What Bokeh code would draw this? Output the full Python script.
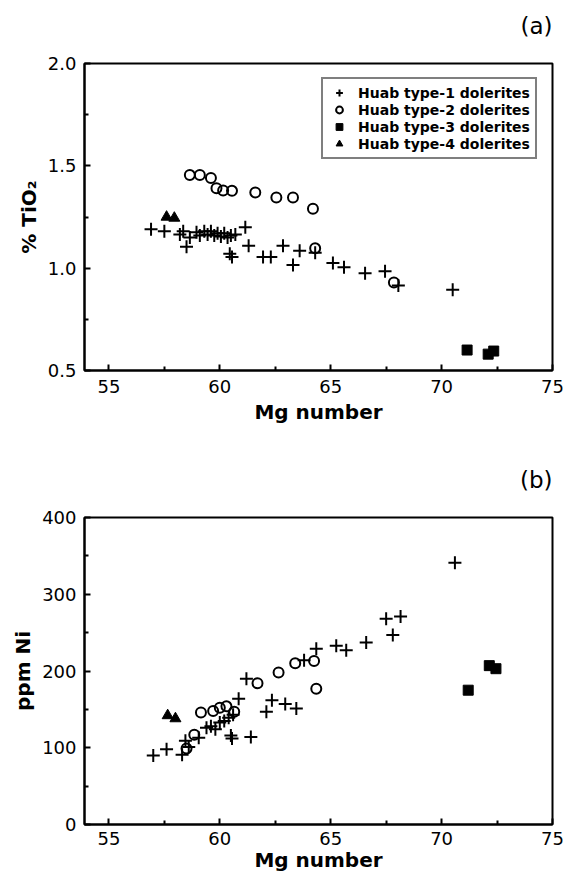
from bokeh.plotting import figure
from bokeh.models import Range1d, FixedTicker, PrintfTickFormatter, Legend, LegendItem, Title
from bokeh.layouts import column
from bokeh.embed import file_html
from bokeh.resources import INLINE

# ---------------- data ----------------
labels = ["Huab type-1 dolerites", "Huab type-2 dolerites",
          "Huab type-3 dolerites", "Huab type-4 dolerites"]

# panel (a): TiO2 vs Mg number
a_t1_mg = [56.9, 57.5, 58.2, 58.35, 58.5, 58.65, 58.95, 59.1, 59.3, 59.45, 59.6,
           59.75, 59.9, 60.05, 60.2, 60.35, 60.5, 60.7, 61.15, 61.3, 60.45, 60.55,
           61.95, 62.3, 62.85, 63.3, 63.6, 64.3, 65.1, 65.6, 66.55, 67.45, 68.05, 70.5]
a_t1_ti = [1.19, 1.18, 1.165, 1.18, 1.105, 1.15, 1.175, 1.16, 1.18, 1.165, 1.18,
           1.16, 1.17, 1.155, 1.17, 1.15, 1.16, 1.165, 1.20, 1.11, 1.07, 1.055,
           1.055, 1.055, 1.11, 1.015, 1.085, 1.075, 1.025, 1.005, 0.975, 0.985, 0.915, 0.895]
a_t2_mg = [58.65, 59.1, 59.6, 59.85, 60.15, 60.55, 61.6, 62.55, 63.3, 64.2, 64.3, 67.85]
a_t2_ti = [1.455, 1.455, 1.44, 1.39, 1.38, 1.378, 1.37, 1.345, 1.345, 1.29, 1.097, 0.93]
a_t3_mg = [71.15, 72.1, 72.35]
a_t3_ti = [0.60, 0.58, 0.595]
a_t4_mg = [57.6, 57.95]
a_t4_ti = [1.25, 1.245]

# panel (b): Ni vs Mg number
b_t1_mg = [57.0, 57.6, 58.3, 58.45, 58.6, 59.05, 59.4, 59.6, 59.8, 60.0, 60.2, 60.4,
           60.6, 60.85, 60.5, 60.55, 61.4, 61.2, 62.1, 62.35, 62.95, 63.45, 63.8,
           64.35, 65.25, 65.7, 66.6, 67.5, 68.15, 67.8, 70.6]
b_t1_ni = [90, 98, 91, 109, 101, 113, 126, 128, 124, 133, 135, 139,
           143, 164, 116, 112, 114, 190, 147, 162, 157, 151, 214,
           229, 233, 227, 237, 268, 271, 247, 341]
b_t2_mg = [58.5, 58.85, 59.15, 59.7, 60.0, 60.3, 60.65, 61.7, 62.65, 63.4, 64.25, 64.35]
b_t2_ni = [99, 117, 146, 148, 152, 154, 147, 184, 198, 210, 213, 177]
b_t3_mg = [71.2, 72.15, 72.45]
b_t3_ni = [175, 207, 203]
b_t4_mg = [57.65, 58.0]
b_t4_ni = [142, 138]

x_ticks = [55, 60, 65, 70, 75]
x_minor = [57.5, 62.5, 67.5, 72.5]
a_yticks = [0.5, 1.0, 1.5, 2.0]
a_yminor = [0.75, 1.25, 1.75]
b_yticks = [0, 100, 200, 300, 400]
b_yminor = [50, 150, 250, 350]

FONT = "DejaVu Sans"
X0, X1 = 53.9, 75


def make_fig(y0, y1, yticks, yminor, yfmt, ylabel, title, top, bottom):
    p = figure(output_backend="svg", toolbar_location=None, title=None,
               frame_width=468, frame_height=307,
               x_range=Range1d(X0, X1), y_range=Range1d(y0, y1),
               min_border_left=84, min_border_right=12,
               min_border_top=top, min_border_bottom=bottom,
               background_fill_color="white", border_fill_color="white")
    p.xgrid.visible = False
    p.ygrid.visible = False
    p.outline_line_color = "black"
    p.outline_line_width = 2
    # spacer next to the frame, then the panel letter
    p.add_layout(Title(text=" ", text_font=FONT, text_font_size="18px", standoff=0), "above")
    p.add_layout(Title(text=title, align="right", vertical_align="top", standoff=0,
                       text_font=FONT, text_font_size="23px", text_font_style="normal",
                       text_color="black"), "above")
    p.xaxis.ticker = FixedTicker(ticks=x_ticks, minor_ticks=x_minor)
    p.yaxis.ticker = FixedTicker(ticks=yticks, minor_ticks=yminor)
    p.yaxis.formatter = PrintfTickFormatter(format=yfmt)
    p.xaxis.axis_label = "Mg number"
    p.yaxis.axis_label = ylabel
    for ax in (p.xaxis[0], p.yaxis[0]):
        ax.axis_line_width = 2
        ax.major_tick_line_width = 2
        ax.minor_tick_line_width = 2
        ax.major_tick_in = 6
        ax.major_tick_out = 0
        ax.minor_tick_in = 4
        ax.minor_tick_out = 0
        ax.major_label_text_font = FONT
        ax.major_label_text_font_size = "18px"
        ax.major_label_text_color = "black"
        ax.axis_label_text_font = FONT
        ax.axis_label_text_font_style = "bold"
        ax.axis_label_text_font_size = "20px"
        ax.axis_label_text_color = "black"
    p.xaxis.major_label_standoff = 9
    p.xaxis.axis_label_standoff = 4
    p.yaxis.major_label_standoff = 8
    p.yaxis.axis_label_standoff = 4
    return p


def add_points(p, m1, v1, m2, v2, m3, v3, m4, v4):
    r1 = p.scatter(m1, v1, marker="cross", size=13, line_color="black", line_width=2)
    r2 = p.scatter(m2, v2, marker="circle", size=10, line_color="black",
                   fill_color=None, line_width=2)
    r3 = p.scatter(m3, v3, marker="square", size=10, line_color="black",
                   fill_color="black", line_width=1)
    r4 = p.scatter(m4, v4, marker="triangle", size=11, line_color="black",
                   fill_color="black", line_width=1)
    return [r1, r2, r3, r4]


pa = make_fig(0.5, 2.0, a_yticks, a_yminor, "%.1f", "% TiO₂", "(a)", 63, 60)
ra = add_points(pa, a_t1_mg, a_t1_ti, a_t2_mg, a_t2_ti, a_t3_mg, a_t3_ti, a_t4_mg, a_t4_ti)
legend = Legend(items=[LegendItem(label=l, renderers=[r]) for l, r in zip(labels, ra)],
                location=(237, 211), margin=0, padding=5, spacing=0,
                glyph_width=22, glyph_height=17, label_height=17, label_standoff=8,
                label_text_font=FONT, label_text_font_size="14px",
                label_text_font_style="bold", label_text_color="black",
                border_line_color="black", border_line_width=2,
                background_fill_color="white", background_fill_alpha=1)
pa.add_layout(legend)

pb = make_fig(0, 400, b_yticks, b_yminor, "%d", "ppm Ni", "(b)", 87, 45)
pb.xaxis.major_label_standoff = 7
pb.xaxis.axis_label_standoff = 0
add_points(pb, b_t1_mg, b_t1_ni, b_t2_mg, b_t2_ni, b_t3_mg, b_t3_ni, b_t4_mg, b_t4_ni)

layout = column(pa, pb, spacing=0)
open("out.html", "w").write(file_html(layout, INLINE))
